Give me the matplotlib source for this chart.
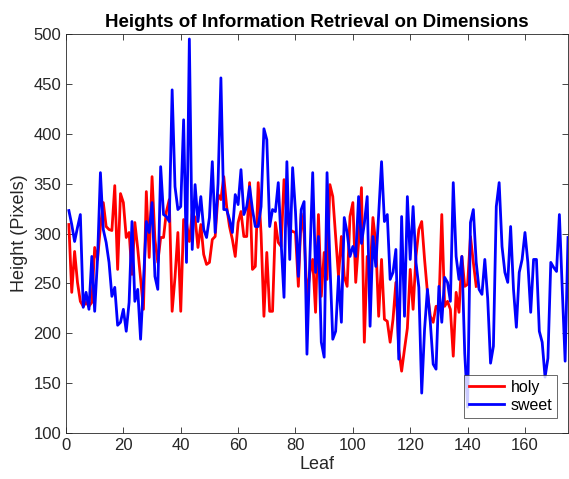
import matplotlib
matplotlib.use("Agg")
import matplotlib.pyplot as plt
import numpy as np

plt.rcParams['font.family'] = ['Liberation Sans', 'DejaVu Sans']

sweet = [323, 309, 292, 306, 319, 226, 241, 224, 277, 222,
         275, 361, 304, 291, 271, 237, 246, 208, 211, 224,
         202, 231, 312, 232, 244, 194, 251, 312, 301, 331,
         257, 244, 367, 319, 317, 312, 444, 347, 324, 327,
         414, 271, 495, 284, 349, 312, 337, 304, 296, 316,
         372, 301, 350, 456, 324, 324, 314, 301, 339, 329,
         364, 319, 327, 347, 324, 307, 307, 327, 405, 394,
         307, 324, 322, 351, 291, 236, 372, 274, 366, 322,
         257, 324, 332, 179, 274, 361, 261, 297, 191, 176,
         361, 270, 194, 202, 257, 211, 316, 301, 277, 287,
         277, 337, 290, 310, 337, 207, 297, 267, 320, 372,
         312, 319, 254, 261, 284, 174, 317, 217, 337, 274,
         327, 271, 246, 140, 204, 244, 211, 169, 164, 247,
         211, 256, 251, 232, 351, 277, 254, 277, 180, 126,
         311, 324, 271, 244, 239, 274, 235, 170, 187, 327,
         351, 287, 261, 251, 307, 244, 206, 261, 274, 301,
         271, 221, 274, 274, 202, 191, 156, 175, 271, 266,
         262, 319, 244, 172, 296]

holy = [309, 241, 282, 251, 232, 227, 231, 227, 231, 286,
        274, 307, 331, 307, 304, 303, 348, 264, 340, 331,
        296, 301, 259, 311, 285, 255, 224, 342, 276, 357,
        294, 271, 296, 296, 322, 334, 222, 256, 301, 222,
        314, 311, 292, 320, 316, 286, 309, 279, 269, 271,
        294, 297, 339, 334, 357, 327, 307, 294, 277, 311,
        322, 297, 297, 351, 264, 267, 351, 300, 217, 281,
        222, 222, 311, 291, 287, 354, 317, 304, 302, 301,
        247, 320, 300, 237, 260, 274, 221, 319, 237, 281,
        254, 349, 337, 297, 257, 297, 257, 247, 317, 331,
        251, 291, 346, 191, 277, 260, 316, 290, 217, 274,
        214, 212, 191, 214, 251, 184, 162, 184, 205, 264,
        224, 277, 304, 312, 274, 241, 217, 211, 227, 227,
        319, 227, 232, 224, 177, 241, 221, 277, 247, 249,
        297, 271, 247]

x_sweet = np.arange(1, len(sweet) + 1)
x_holy = np.arange(1, len(holy) + 1)

fig = plt.figure(figsize=(5.69, 4.79), dpi=100)
ax = fig.add_axes([66/569, 1 - 433/479, (568 - 66)/569, (433 - 34)/479])

ax.plot(x_holy, holy, color=(1, 0, 0), lw=2, label='holy')
ax.plot(x_sweet, sweet, color=(0, 0, 1), lw=2, label='sweet')

ax.set_xlim(0, 175)
ax.set_ylim(100, 500)
ax.set_xticks(np.arange(0, 175, 20))
ax.set_yticks(np.arange(100, 501, 50))

edge = (0.15, 0.15, 0.15)
for s in ax.spines.values():
    s.set_color(edge)
    s.set_linewidth(0.6)
ax.tick_params(direction='in', top=True, right=True, length=4, width=0.6,
               colors=edge, labelsize=12, labelcolor=edge)

ax.set_title('Heights of Information Retrieval on Dimensions',
             fontsize=13.5, fontweight='bold', color='black', pad=5)
ax.set_xlabel('Leaf', fontsize=13, color=edge, labelpad=2)
ax.set_ylabel('Height (Pixels)', fontsize=13, color=edge, labelpad=4)

leg = ax.legend(loc='lower right', bbox_to_anchor=(0.985, 0.03),
                fontsize=11.5, frameon=True, fancybox=False,
                handlelength=2.2, borderpad=0.3, labelspacing=0.2,
                handletextpad=0.4, borderaxespad=0.2)
leg.get_frame().set_edgecolor(edge)
leg.get_frame().set_linewidth(0.6)

fig.savefig('out.png', dpi=100)
